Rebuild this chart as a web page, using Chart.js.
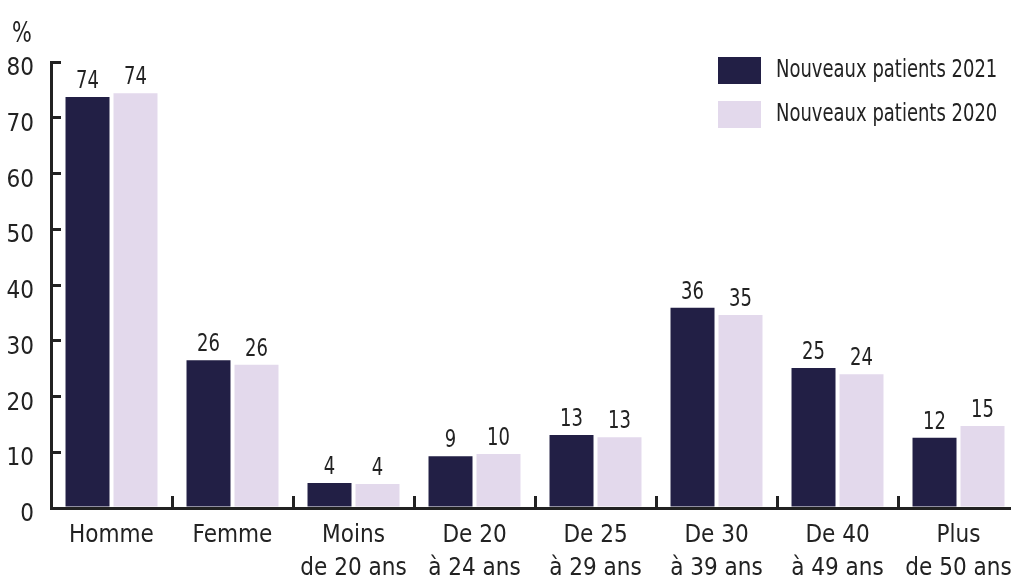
<!DOCTYPE html>
<html>
<head>
<meta charset="utf-8">
<script src="https://cdn.jsdelivr.net/npm/chart.js@4"></script>
<style>
  html, body { margin: 0; padding: 0; background: #fff; overflow: hidden; }
  #wrap { width: 1019px; height: 580px; }
</style>
</head>
<body>
<div id="wrap"><canvas id="myChart"></canvas></div>
<script>
const categories = [
    ['Homme'], ['Femme'], ['Moins', 'de 20 ans'], ['De 20', 'à 24 ans'],
    ['De 25', 'à 29 ans'], ['De 30', 'à 39 ans'], ['De 40', 'à 49 ans'], ['Plus', 'de 50 ans']
];
const patients2021 = [73.7, 26.5, 4.5, 9.3, 13.1, 35.9, 25.1, 12.6];
const patients2020 = [74.4, 25.7, 4.3, 9.7, 12.7, 34.6, 24.0, 14.7];
const labels2021 = ['74', '26', '4', '9', '13', '36', '25', '12'];
const labels2020 = ['74', '26', '4', '10', '13', '35', '24', '15'];
const yTicks = [0, 10, 20, 30, 40, 50, 60, 70, 80];

const FONT = '"Liberation Sans Narrow", "DejaVu Sans Condensed", "Roboto", sans-serif';
const INK = '#222222';
const DARK = '#221f45';
const LIGHT = '#e3d9ec';
const SQUEEZE = 0.8; // narrows the plugin text a bit, the original face is very condensed

function narrowText(ctx, text, x, y) {
    ctx.save();
    ctx.translate(x, y);
    ctx.scale(SQUEEZE, 1);
    ctx.fillText(text, 0, 0);
    ctx.restore();
}

// value labels, "%" and the stacked legend
const extras = {
    id: 'extras',
    afterDatasetsDraw(chart) {
        const ctx = chart.ctx;
        ctx.save();
        ctx.fillStyle = INK;
        ctx.textAlign = 'center';
        ctx.textBaseline = 'alphabetic';
        ctx.font = '25px ' + FONT;
        const allLabels = [labels2021, labels2020];
        chart.data.datasets.forEach((ds, i) => {
            chart.getDatasetMeta(i).data.forEach((bar, j) => {
                narrowText(ctx, allLabels[i][j], bar.x, bar.y - 9);
            });
        });

        ctx.textAlign = 'left';
        ctx.font = '29px ' + FONT;
        narrowText(ctx, '%', 12, 42);

        ctx.font = '25px ' + FONT;
        ctx.textBaseline = 'middle';
        chart.data.datasets.forEach((ds, i) => {
            const y = 57 + i * 44;
            ctx.fillStyle = ds.backgroundColor;
            ctx.fillRect(718, y, 43, 27);
            ctx.fillStyle = INK;
            narrowText(ctx, ds.label, 776, y + 13);
        });
        ctx.restore();
    }
};

const ctx = document.getElementById('myChart').getContext('2d');
const myChart = new Chart(ctx, {
    type: 'bar',
    data: {
        labels: categories,
        datasets: [{
            label: 'Nouveaux patients 2021',
            data: patients2021,
            backgroundColor: DARK,
            categoryPercentage: 0.793,
            barPercentage: 0.917
        }, {
            label: 'Nouveaux patients 2020',
            data: patients2020,
            backgroundColor: LIGHT,
            categoryPercentage: 0.793,
            barPercentage: 0.917
        }]
    },
    options: {
        responsive: true,
        maintainAspectRatio: false,
        animation: false,
        layout: { padding: { top: 62, left: 0, right: 0, bottom: 0 } },
        plugins: {
            legend: { display: false },
            tooltip: { enabled: false }
        },
        scales: {
            x: {
                afterFit: (scale) => {
                    scale.height = 72;
                    scale.paddingLeft = 0;
                    scale.paddingRight = 0;
                },
                grid: {
                    offset: true,
                    drawOnChartArea: false,
                    drawTicks: true,
                    tickLength: -12,
                    color: INK,
                    lineWidth: 3
                },
                border: { color: INK, width: 3 },
                ticks: {
                    color: INK,
                    padding: 23,
                    maxRotation: 0,
                    autoSkip: false,
                    font: { family: FONT, size: 24, lineHeight: 1.375 }
                }
            },
            y: {
                min: 0,
                max: 80,
                afterFit: (scale) => {
                    scale.width = 51;
                    scale.paddingTop = 0;
                    scale.paddingBottom = 0;
                },
                afterBuildTicks: (scale) => { scale.ticks = yTicks.map(v => ({ value: v })); },
                grid: {
                    drawOnChartArea: false,
                    drawTicks: true,
                    tickLength: -10,
                    color: INK,
                    lineWidth: 3
                },
                border: { color: INK, width: 3 },
                ticks: {
                    color: INK,
                    padding: 27,
                    // empty first line nudges the number a little below its tick
                    callback: (v) => ['', String(v)],
                    font: { family: FONT, size: 24, lineHeight: 0.58 }
                }
            }
        }
    },
    plugins: [extras]
});
</script>
</body>
</html>
